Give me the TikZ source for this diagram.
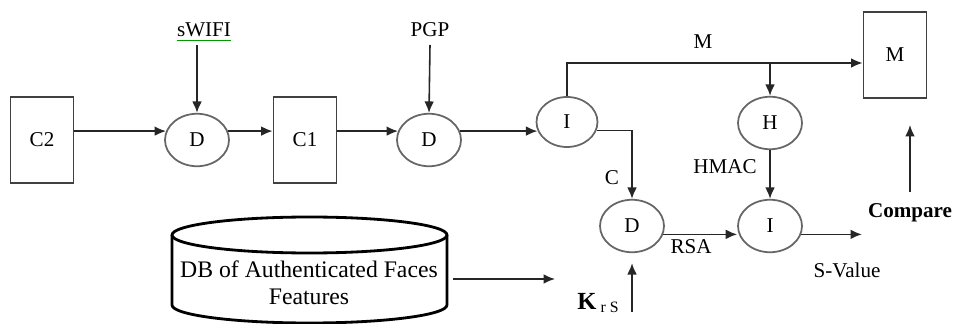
\documentclass[tikz,border=0pt]{standalone}
\usepackage{fontspec}
\setmainfont{Liberation Serif}
\usetikzlibrary{shapes.geometric,arrows.meta}

\begin{document}
\begin{tikzpicture}[x=0.02cm,y=-0.02cm,
  every node/.style={font=\fontsize{12}{14}\selectfont, text=black},
  blk/.style={draw=black!75, line width=1.1pt, rectangle, inner sep=0pt,
              minimum width=1.26cm, minimum height=1.72cm},
  op/.style={draw=black!60, line width=1pt, ellipse, inner sep=0pt,
             minimum width=1.28cm, minimum height=1.05cm},
  link/.style={draw=black!85, line width=0.9pt, -{Latex[length=6.5pt,width=5.5pt]}},
  lbl/.style={inner sep=0pt}]
\useasboundingbox (0,0) rectangle (953,324);

% blocks
\node[blk] (C2) at (42,140) {C2};
\node[blk] (C1) at (305,140) {C1};
\node[blk] (M)  at (895,55) {M};

% operations
\node[op] (D1) at (197,140) {D};
\node[op] (D2) at (429,140) {D};
\node[op, minimum width=1.22cm, minimum height=1.0cm] (I1) at (567,122) {I};
\node[op] (H)  at (770,123) {H};
\node[op] (D3) at (632,226) {D};
\node[op] (I2) at (770,226) {I};

% key labels
\node[lbl] (sw)  at (204,30) {sWIFI};
\draw[green!60!black, line width=0.6pt] ([yshift=-1.5pt]sw.south west) -- ([yshift=-1.5pt]sw.south east);
\node[lbl] (pgp) at (430,30) {PGP};
\coordinate (swA) at (197,45);
\coordinate (pgA) at (430,45);
\draw[link] (swA) -- (D1.north);
\draw[link] (pgA) -- (D2.north);

% main chain
\draw[link] (C2.east |- D1.164) -- (D1.164);
\draw[link] (D1.16) -- (D1.16 -| C1.west);
\draw[link] (C1.east |- D2.164) -- (D2.164);
\draw[link] (D2.16) -- (D2.16 -| I1.196);

% message branch
\coordinate (top) at (770,63);
\draw[link] (I1.north) |- (top -| M.west);
\draw[link] (top) -- (H.north);
\node[lbl] (mlab) at (703,42) {M};

% cipher branch
\draw[link] (I1.344) -| (D3.north);
\node[lbl] (clab) at (612,178) {C};

\draw[link] (H.south) -- (I2.north);
\node[lbl] (hmac) at (725,167) {HMAC};

\draw[link] (D3.345) -- (D3.345 -| I2.west);
\node[lbl] (rsa) at (691,247) {RSA};

\coordinate (sv) at (862,234);
\draw[link] (I2.345) -- (I2.345 -| sv);
\node[lbl] (svlab) at (847,270) {S-Value};

\node[lbl, font=\fontsize{12}{14}\selectfont\bfseries] (cmp) at (910,213) {Compare};
\coordinate (cmpA) at (910,192);
\coordinate (cmpB) at (910,125);
\draw[link] (cmpA) -- (cmpB);

% session key
\node[lbl] (krs) at (598,303) {\fontsize{14}{14}\selectfont\bfseries K\,\raisebox{-0.35ex}{\fontsize{9}{9}\selectfont\mdseries r S}};
\coordinate (kb) at (632,312);
\draw[link] (kb) -- ([yshift=-0.2cm]D3.south);

% face feature database
\draw[line width=1.6pt] (309.5,235) ellipse [x radius=2.75cm, y radius=0.36cm];
\draw[line width=1.6pt] (172,235) -- (172,305)
  arc[start angle=180, end angle=360, x radius=2.75cm, y radius=0.36cm] -- (447,235);
\node[align=center, font=\fontsize{13.5}{15.5}\selectfont] (DB) at (309,283)
  {DB of Authenticated Faces\\Features};
\coordinate (dbA) at (453,279);
\coordinate (dbB) at (555,279);
\draw[link] (dbA) -- (dbB);
\end{tikzpicture}
\end{document}
